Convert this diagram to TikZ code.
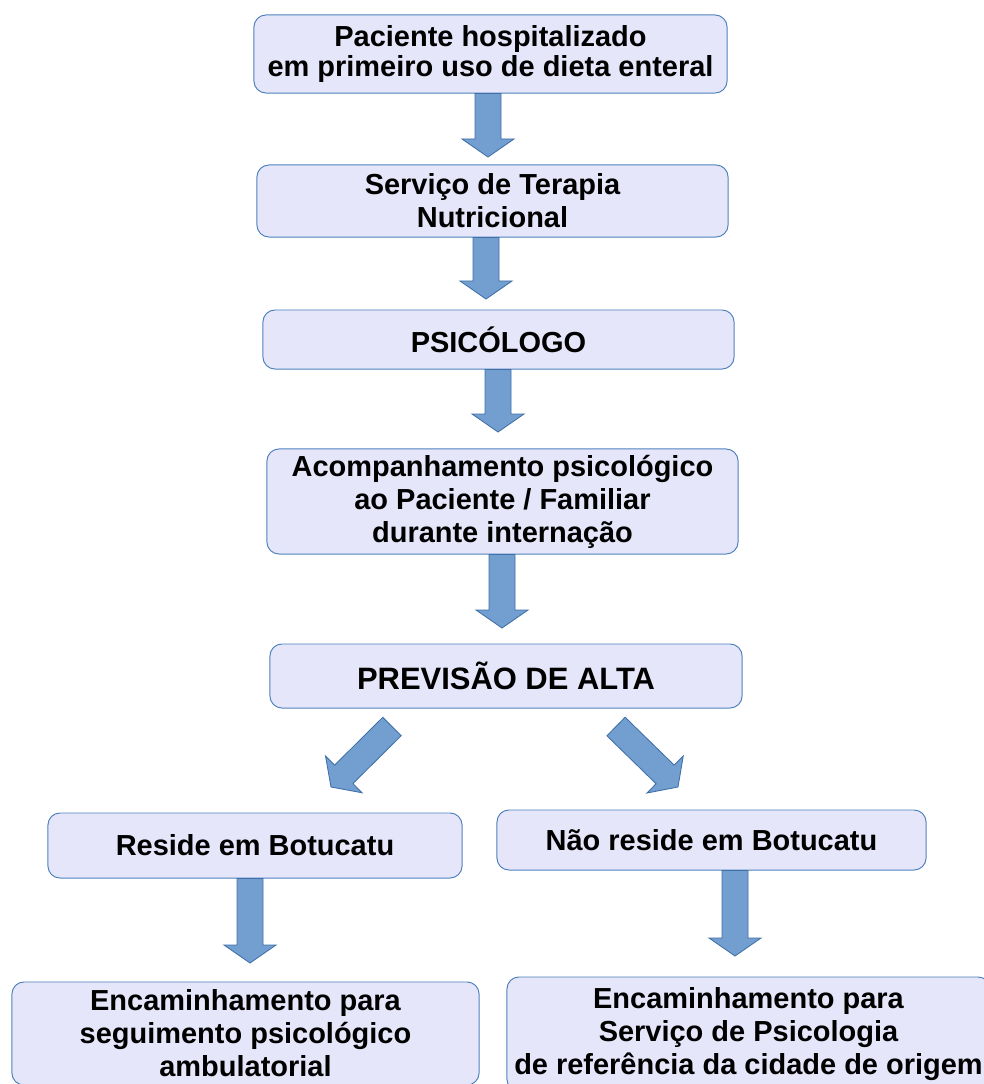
\documentclass[tikz,border=0pt]{standalone}
\usepackage{fontspec}
\setmainfont{Liberation Sans}
\usepackage{tikz}
\usetikzlibrary{calc}

\definecolor{boxfill}{RGB}{230,230,250}
\definecolor{boxline}{RGB}{79,129,189}
\definecolor{arrowfill}{RGB}{114,159,207}
\definecolor{arrowline}{RGB}{63,111,168}

\tikzset{
  etapa/.style={draw=boxline, fill=boxfill, line width=0.7pt, rounded corners=0.3cm,
    align=center, inner sep=0pt, font=\bfseries\fontsize{20.6}{23.5}\selectfont},
  seta/.style={draw=arrowline, fill=arrowfill, line width=0.6pt, line join=miter}
}

% block arrow from #1 (tail) to #2 (tip)
\newcommand{\blocoseta}[2]{%
  \path ($(#2)!0.45cm!(#1)$) coordinate (hb);
  \filldraw[seta] ($(#1)!0.325cm!90:(#2)$) -- ($(hb)!0.325cm!90:(#2)$)
    -- ($(hb)!0.65cm!90:(#2)$) -- (#2) -- ($(hb)!0.65cm!-90:(#2)$)
    -- ($(hb)!0.325cm!-90:(#2)$) -- ($(#1)!0.325cm!-90:(#2)$) -- cycle;}

\begin{document}
\begin{tikzpicture}[x=0.025cm, y=-0.025cm]
                \useasboundingbox (0,0) rectangle (984,1084);
                \clip (0,0) rectangle (984,1084);

                % Boxes
                \node[etapa, minimum width=11.825cm, minimum height=1.95cm,
                  font=\bfseries\fontsize{20.6}{21.3}\selectfont] (paciente) at (490.5,54)
                  {Paciente hospitalizado\\em primeiro uso de dieta enteral};
                \node[etapa, minimum width=11.775cm, minimum height=1.8cm] (servico) at (492.5,201)
                  {Serviço de Terapia\\Nutricional};
                \node[etapa, minimum width=11.775cm, minimum height=1.475cm] (psicologo) at (498.5,339.5)
                  {PSICÓLOGO};
                \node[etapa, minimum width=11.775cm, minimum height=2.625cm] (acomp) at (502.5,501.5)
                  {Acompanhamento psicológico\\ao Paciente / Familiar\\durante internação};
                \node[etapa, minimum width=11.8cm, minimum height=1.6cm,
                  font=\bfseries\fontsize{22}{26}\selectfont] (alta) at (506,676)
                  {PREVISÃO DE ALTA};
                \node[etapa, minimum width=10.35cm, minimum height=1.625cm] (reside) at (255,845.5)
                  {Reside em Botucatu};
                \node[etapa, minimum width=10.725cm, minimum height=1.5cm] (naoreside) at (711.5,840)
                  {Não reside em Botucatu};
                \node[etapa, minimum width=11.675cm, minimum height=2.575cm] (ambulatorio) at (245.5,1033.5)
                  {Encaminhamento para\\seguimento psicológico\\ambulatorial};
                \node[etapa, minimum width=12.075cm, minimum height=2.85cm] (origem) at (748.5,1034)
                  {Encaminhamento para\\Serviço de Psicologia\\de referência da cidade de origem};

                % Arrow tips
                \coordinate (a1) at (488,157);
                \coordinate (a2) at (486,299);
                \coordinate (a3) at (498,432);
                \coordinate (a4) at (502,628);
                \coordinate (a5) at (331,787);
                \coordinate (a6) at (678,787);
                \coordinate (a7) at (250,963);
                \coordinate (a8) at (735,956);

                % Arrow tails
                \coordinate (s1) at (paciente.south -| a1);
                \coordinate (s2) at (servico.south -| a2);
                \coordinate (s3) at (psicologo.south -| a3);
                \coordinate (s4) at (acomp.south -| a4);
                \coordinate (s5) at ($(alta.south)+(-114,18)$);
                \coordinate (s6) at ($(alta.south)+(110,18)$);
                \coordinate (s7) at (reside.south -| a7);
                \coordinate (s8) at (naoreside.south -| a8);

                \blocoseta{s1}{a1}
                \blocoseta{s2}{a2}
                \blocoseta{s3}{a3}
                \blocoseta{s4}{a4}
                \blocoseta{s5}{a5}
                \blocoseta{s6}{a6}
                \blocoseta{s7}{a7}
                \blocoseta{s8}{a8}
\end{tikzpicture}
\end{document}
